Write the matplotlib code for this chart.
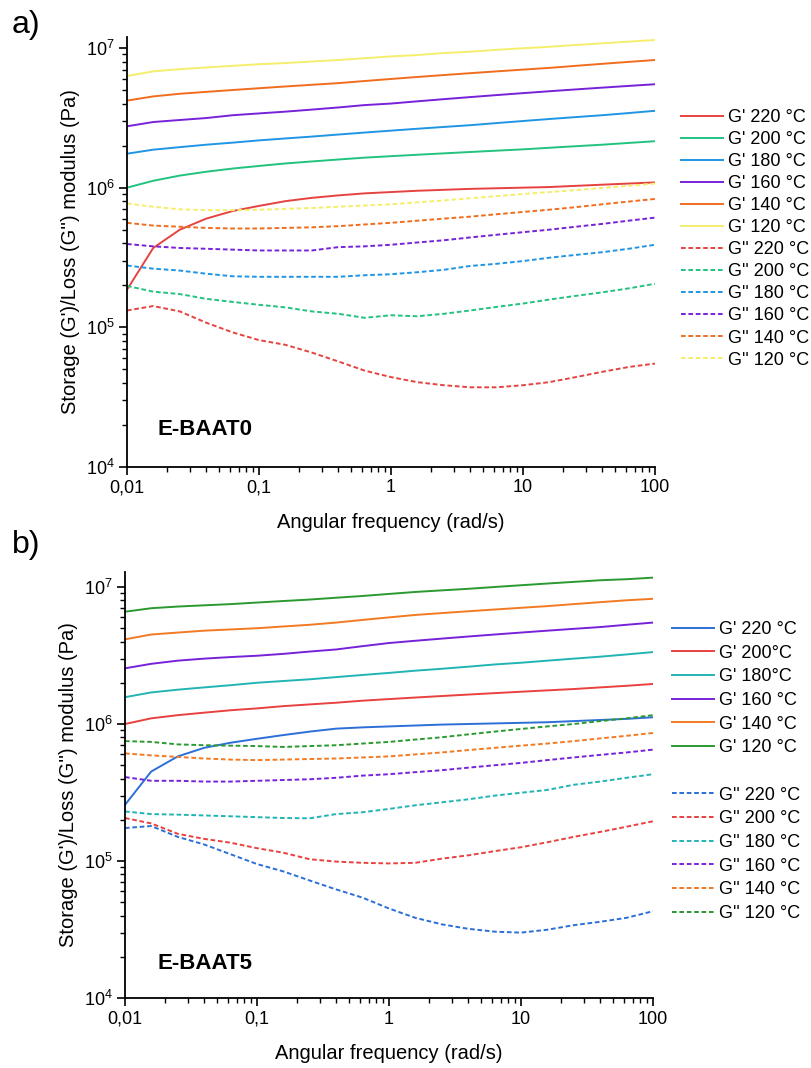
import numpy as np
import matplotlib
matplotlib.use("Agg")
import matplotlib.pyplot as plt
from matplotlib.lines import Line2D
from matplotlib.ticker import LogLocator, FixedLocator, NullFormatter

plt.rcParams['font.family'] = ['Liberation Sans', 'DejaVu Sans']
plt.rcParams['mathtext.fontset'] = 'custom'
plt.rcParams['mathtext.rm'] = 'Liberation Sans'
plt.rcParams['mathtext.it'] = 'Liberation Sans:italic'
plt.rcParams['mathtext.bf'] = 'Liberation Sans:bold'

# angular frequency (rad/s), 5 points per decade
freq = [0.01, 0.0158, 0.0251, 0.0398, 0.0631, 0.1, 0.158, 0.251, 0.398, 0.631,
        1, 1.58, 2.51, 3.98, 6.31, 10, 15.8, 25.1, 39.8, 63.1, 100]

temps = ['220', '200', '180', '160', '140', '120']

# ---- a) E-BAAT0 ----
a_gp = {
    '220': [1.86e5, 3.7e5, 5.0e5, 6.0e5, 6.8e5, 7.4e5, 8.0e5, 8.45e5, 8.8e5, 9.1e5,
            9.3e5, 9.5e5, 9.65e5, 9.8e5, 9.9e5, 1.0e6, 1.01e6, 1.03e6, 1.05e6, 1.07e6, 1.09e6],
    '200': [1.0e6, 1.12e6, 1.22e6, 1.3e6, 1.37e6, 1.43e6, 1.49e6, 1.54e6, 1.59e6, 1.64e6,
            1.68e6, 1.72e6, 1.76e6, 1.8e6, 1.84e6, 1.88e6, 1.93e6, 1.98e6, 2.03e6, 2.09e6, 2.15e6],
    '180': [1.75e6, 1.87e6, 1.95e6, 2.03e6, 2.1e6, 2.18e6, 2.25e6, 2.32e6, 2.4e6, 2.48e6,
            2.56e6, 2.64e6, 2.72e6, 2.8e6, 2.9e6, 3.0e6, 3.1e6, 3.2e6, 3.3e6, 3.42e6, 3.55e6],
    '160': [2.75e6, 2.95e6, 3.05e6, 3.15e6, 3.3e6, 3.4e6, 3.5e6, 3.62e6, 3.75e6, 3.9e6,
            4.0e6, 4.15e6, 4.3e6, 4.45e6, 4.6e6, 4.75e6, 4.9e6, 5.05e6, 5.2e6, 5.35e6, 5.5e6],
    '140': [4.2e6, 4.5e6, 4.7e6, 4.85e6, 5.0e6, 5.15e6, 5.3e6, 5.45e6, 5.6e6, 5.8e6,
            6.0e6, 6.2e6, 6.4e6, 6.6e6, 6.8e6, 7.0e6, 7.2e6, 7.45e6, 7.7e6, 7.95e6, 8.2e6],
    '120': [6.3e6, 6.8e6, 7.05e6, 7.25e6, 7.45e6, 7.65e6, 7.8e6, 8.0e6, 8.2e6, 8.45e6,
            8.7e6, 8.9e6, 9.2e6, 9.4e6, 9.7e6, 9.95e6, 1.02e7, 1.05e7, 1.08e7, 1.11e7, 1.14e7],
}
a_gpp = {
    '220': [1.32e5, 1.42e5, 1.3e5, 1.08e5, 9.2e4, 8.1e4, 7.5e4, 6.6e4, 5.7e4, 4.9e4,
            4.4e4, 4.05e4, 3.85e4, 3.72e4, 3.72e4, 3.85e4, 4.05e4, 4.4e4, 4.8e4, 5.2e4, 5.5e4],
    '200': [1.98e5, 1.8e5, 1.73e5, 1.6e5, 1.52e5, 1.45e5, 1.39e5, 1.3e5, 1.25e5, 1.17e5,
            1.22e5, 1.2e5, 1.25e5, 1.32e5, 1.4e5, 1.48e5, 1.58e5, 1.68e5, 1.78e5, 1.9e5, 2.05e5],
    '180': [2.77e5, 2.63e5, 2.55e5, 2.42e5, 2.32e5, 2.3e5, 2.3e5, 2.3e5, 2.3e5, 2.36e5,
            2.4e5, 2.48e5, 2.58e5, 2.75e5, 2.85e5, 2.98e5, 3.15e5, 3.3e5, 3.45e5, 3.65e5, 3.9e5],
    '160': [3.95e5, 3.8e5, 3.7e5, 3.65e5, 3.6e5, 3.55e5, 3.55e5, 3.55e5, 3.75e5, 3.8e5,
            3.9e5, 4.05e5, 4.2e5, 4.4e5, 4.6e5, 4.8e5, 5.0e5, 5.25e5, 5.5e5, 5.8e5, 6.1e5],
    '140': [5.6e5, 5.35e5, 5.25e5, 5.15e5, 5.1e5, 5.1e5, 5.15e5, 5.2e5, 5.3e5, 5.45e5,
            5.6e5, 5.8e5, 6.0e5, 6.2e5, 6.45e5, 6.7e5, 6.95e5, 7.25e5, 7.6e5, 7.95e5, 8.3e5],
    '120': [7.7e5, 7.3e5, 7.0e5, 6.9e5, 6.9e5, 6.95e5, 7.05e5, 7.15e5, 7.3e5, 7.45e5,
            7.6e5, 7.85e5, 8.1e5, 8.4e5, 8.7e5, 9.0e5, 9.3e5, 9.6e5, 9.95e5, 1.03e6, 1.07e6],
}
a_colors = {'220': '#e5433f', '200': '#22c27f', '180': '#1f95e3',
            '160': '#7722d8', '140': '#f06d1f', '120': '#f4ee6c'}
a_labels_gp = ["G' %s °C" % t for t in temps]
a_labels_gpp = ["G'' %s °C" % t for t in temps]

# ---- b) E-BAAT5 ----
b_gp = {
    '220': [2.57e5, 4.5e5, 5.8e5, 6.7e5, 7.3e5, 7.8e5, 8.3e5, 8.8e5, 9.25e5, 9.45e5,
            9.6e5, 9.75e5, 9.9e5, 1.0e6, 1.01e6, 1.02e6, 1.03e6, 1.05e6, 1.07e6, 1.09e6, 1.12e6],
    '200': [1.0e6, 1.1e6, 1.16e6, 1.21e6, 1.26e6, 1.3e6, 1.35e6, 1.39e6, 1.43e6, 1.48e6,
            1.52e6, 1.56e6, 1.6e6, 1.64e6, 1.68e6, 1.72e6, 1.76e6, 1.8e6, 1.85e6, 1.9e6, 1.96e6],
    '180': [1.57e6, 1.7e6, 1.78e6, 1.85e6, 1.92e6, 2.0e6, 2.06e6, 2.12e6, 2.2e6, 2.28e6,
            2.36e6, 2.45e6, 2.53e6, 2.62e6, 2.72e6, 2.8e6, 2.9e6, 3.0e6, 3.1e6, 3.22e6, 3.35e6],
    '160': [2.55e6, 2.75e6, 2.9e6, 3.0e6, 3.08e6, 3.15e6, 3.25e6, 3.38e6, 3.5e6, 3.7e6,
            3.9e6, 4.05e6, 4.2e6, 4.35e6, 4.5e6, 4.65e6, 4.8e6, 4.95e6, 5.1e6, 5.3e6, 5.5e6],
    '140': [4.15e6, 4.5e6, 4.65e6, 4.8e6, 4.9e6, 5.0e6, 5.15e6, 5.3e6, 5.5e6, 5.75e6,
            6.0e6, 6.25e6, 6.45e6, 6.65e6, 6.85e6, 7.05e6, 7.25e6, 7.5e6, 7.75e6, 8.0e6, 8.2e6],
    '120': [6.6e6, 7.0e6, 7.2e6, 7.35e6, 7.5e6, 7.7e6, 7.9e6, 8.1e6, 8.35e6, 8.6e6,
            8.9e6, 9.2e6, 9.45e6, 9.7e6, 1.0e7, 1.03e7, 1.06e7, 1.09e7, 1.12e7, 1.14e7, 1.17e7],
}
b_gpp = {
    '220': [1.74e5, 1.8e5, 1.5e5, 1.32e5, 1.12e5, 9.5e4, 8.4e4, 7.2e4, 6.2e4, 5.4e4,
            4.5e4, 3.85e4, 3.45e4, 3.2e4, 3.05e4, 3.0e4, 3.15e4, 3.4e4, 3.6e4, 3.85e4, 4.3e4],
    '200': [2.06e5, 1.88e5, 1.58e5, 1.45e5, 1.36e5, 1.24e5, 1.15e5, 1.03e5, 9.9e4, 9.7e4,
            9.6e4, 9.7e4, 1.04e5, 1.1e5, 1.18e5, 1.26e5, 1.37e5, 1.5e5, 1.63e5, 1.78e5, 1.95e5],
    '180': [2.3e5, 2.2e5, 2.18e5, 2.15e5, 2.12e5, 2.09e5, 2.06e5, 2.05e5, 2.2e5, 2.27e5,
            2.4e5, 2.55e5, 2.68e5, 2.82e5, 3.0e5, 3.15e5, 3.3e5, 3.6e5, 3.8e5, 4.05e5, 4.3e5],
    '160': [4.1e5, 3.85e5, 3.85e5, 3.8e5, 3.8e5, 3.85e5, 3.9e5, 3.95e5, 4.05e5, 4.2e5,
            4.3e5, 4.45e5, 4.6e5, 4.8e5, 5.0e5, 5.2e5, 5.45e5, 5.7e5, 5.95e5, 6.2e5, 6.5e5],
    '140': [6.1e5, 5.9e5, 5.75e5, 5.6e5, 5.5e5, 5.45e5, 5.5e5, 5.55e5, 5.6e5, 5.7e5,
            5.8e5, 6.0e5, 6.2e5, 6.45e5, 6.7e5, 6.95e5, 7.2e5, 7.5e5, 7.85e5, 8.2e5, 8.6e5],
    '120': [7.5e5, 7.4e5, 7.1e5, 7.0e5, 6.95e5, 6.9e5, 6.8e5, 6.9e5, 7.0e5, 7.2e5,
            7.4e5, 7.7e5, 8.0e5, 8.4e5, 8.8e5, 9.2e5, 9.6e5, 1.0e6, 1.05e6, 1.1e6, 1.16e6],
}
b_colors = {'220': '#2c6fd6', '200': '#e8413f', '180': '#22b4b4',
            '160': '#7722d8', '140': '#f27a22', '120': '#2a9a30'}
b_labels_gp = ["G' 220 °C", "G' 200°C", "G' 180°C", "G' 160 °C", "G' 140 °C", "G' 120 °C"]
b_labels_gpp = ["G'' %s °C" % t for t in temps]

W, H = 812, 1068
fig = plt.figure(figsize=(W / 100, H / 100), dpi=100)


def px_axes(left, top, right, bottom):
    return fig.add_axes([left / W, 1 - bottom / H, (right - left) / W, (bottom - top) / H])


def style_axes(ax, ytop):
    ax.set_xscale('log')
    ax.set_yscale('log')
    ax.set_xlim(0.01, 100)
    ax.set_ylim(1e4, ytop)
    for s in ['top', 'right']:
        ax.spines[s].set_visible(False)
    for s in ['left', 'bottom']:
        ax.spines[s].set_linewidth(1.3)
    ax.xaxis.set_major_locator(FixedLocator([0.01, 0.1, 1, 10, 100]))
    ax.set_xticklabels(['0,01', '0,1', '1', '10', '100'])
    ax.xaxis.set_minor_locator(LogLocator(base=10, subs=np.arange(2, 10)))
    ax.xaxis.set_minor_formatter(NullFormatter())
    ax.yaxis.set_major_locator(FixedLocator([1e4, 1e5, 1e6, 1e7]))
    ax.set_yticklabels(['$10^4$', '$10^5$', '$10^6$', '$10^7$'])
    ax.yaxis.set_minor_locator(LogLocator(base=10, subs=np.arange(2, 10)))
    ax.yaxis.set_minor_formatter(NullFormatter())
    ax.tick_params(which='major', direction='out', length=6, width=1.2, labelsize=13, pad=3)
    ax.tick_params(which='minor', direction='out', length=3.5, width=1.0)
    ax.set_xlabel('Angular frequency (rad/s)', fontsize=14.5, labelpad=12)
    ax.set_ylabel("Storage (G')/Loss (G'') modulus (Pa)", fontsize=14.5, labelpad=4)


# panel a
ax1 = px_axes(127, 37, 655, 467)
style_axes(ax1, 10 ** (7 + 11 / 140))
h_a = []
for t, lab in zip(temps, a_labels_gp):
    h, = ax1.plot(freq, a_gp[t], '-', color=a_colors[t], lw=1.4, label=lab)
    h_a.append(h)
for t, lab in zip(temps, a_labels_gpp):
    h, = ax1.plot(freq, a_gpp[t], '--', color=a_colors[t], lw=1.4, dashes=(2.4, 1.4), label=lab)
    h_a.append(h)
ax1.text(0.057, 0.088, 'E-BAAT0', transform=ax1.transAxes, fontsize=16,
         fontweight='bold', va='center', ha='left')
fig.legend(handles=h_a, loc='upper left', bbox_to_anchor=(681 / W, 1 - 109 / H),
           frameon=False, fontsize=13, handlelength=2.3, handletextpad=0.3,
           labelspacing=0.28, borderpad=0, borderaxespad=0)

# panel b
ax2 = px_axes(125, 572, 653, 998)
style_axes(ax2, 10 ** (7 + 15 / 137))
h_b = []
for t, lab in zip(temps, b_labels_gp):
    h, = ax2.plot(freq, b_gp[t], '-', color=b_colors[t], lw=1.4, label=lab)
    h_b.append(h)
h_b.append(Line2D([], [], linestyle='none', label=' '))
for t, lab in zip(temps, b_labels_gpp):
    h, = ax2.plot(freq, b_gpp[t], '--', color=b_colors[t], lw=1.4, dashes=(2.4, 1.4), label=lab)
    h_b.append(h)
ax2.text(0.061, 0.082, 'E-BAAT5', transform=ax2.transAxes, fontsize=16,
         fontweight='bold', va='center', ha='left')
fig.legend(handles=h_b, loc='upper left', bbox_to_anchor=(672 / W, 1 - 621 / H),
           frameon=False, fontsize=13, handlelength=2.3, handletextpad=0.3,
           labelspacing=0.37, borderpad=0, borderaxespad=0)

fig.text(12 / W, 1 - 25 / H, 'a)', fontsize=23, va='center', ha='left')
fig.text(12 / W, 1 - 545 / H, 'b)', fontsize=23, va='center', ha='left')

fig.savefig('out.png', dpi=100)
